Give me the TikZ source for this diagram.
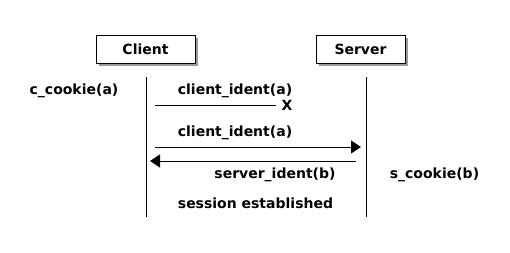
\documentclass[tikz,border=0pt]{standalone}
\usepackage{fontspec}
\setmainfont{DejaVu Sans}
\usetikzlibrary{arrows.meta}
\begin{document}
\begin{tikzpicture}[x=1pt,y=-1pt,
  actor/.style={draw=black,line width=1pt,fill=white,minimum width=99pt,minimum height=28pt,inner sep=0pt,font=\bfseries\fontsize{14}{16}\selectfont},
  shadowbox/.style={fill=black!40,draw=none,minimum width=99pt,minimum height=28pt,inner sep=0pt},
  lbl/.style={inner sep=0pt,font=\bfseries\fontsize{14}{16}\selectfont},
  life/.style={line width=1pt},
  msg/.style={line width=1pt,-{Triangle[length=10pt,width=13pt]}}]
\useasboundingbox (0,0) rectangle (510,252);
% shadows
\node[shadowbox] at (148.5,52) {};
\node[shadowbox,minimum width=89pt] at (363.5,52) {};
% actors
\node[actor] (client) at (145.5,49) {Client};
\node[actor,minimum width=89pt] (server) at (360.5,49) {Server};
% lifelines
\coordinate (ct) at (146,77); \coordinate (cb) at (146,217);
\coordinate (st) at (366,77); \coordinate (sb) at (366,217);
\draw[life] (ct) -- (cb);
\draw[life] (st) -- (sb);
% labels
\node[lbl] (ccookie) at (74,91) {c\_cookie(a)};
\node[lbl] (m1) at (235,91) {client\_ident(a)};
\coordinate (m1s) at (155,105);
\node[lbl] (x) at (287,105) {X};
\draw[line width=1pt] (m1s) -- ([xshift=-5pt]x.west);
\node[lbl] (m2) at (235,133) {client\_ident(a)};
\coordinate (m2s) at (155,147); \coordinate (m2e) at (361,147);
\draw[msg] (m2s) -- (m2e);
\coordinate (m3s) at (356,161); \coordinate (m3e) at (150,161);
\draw[msg] (m3s) -- (m3e);
\node[lbl] (m3) at (275,175) {server\_ident(b)};
\node[lbl] (scookie) at (434.5,175) {s\_cookie(b)};
\node[lbl] (sess) at (255.5,203) {session established};
\end{tikzpicture}
\end{document}
